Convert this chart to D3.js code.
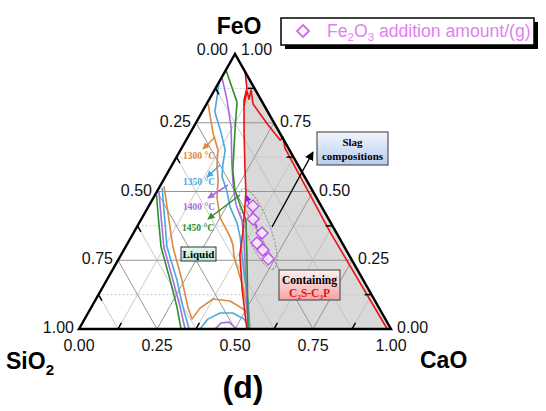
<!DOCTYPE html>
<html><head><meta charset="utf-8">
<script src="https://cdn.jsdelivr.net/npm/d3@7"></script>
<style>body{margin:0;background:#fff;} svg{display:block;}</style>
</head><body>
<svg id="chart" width="546" height="411"></svg>
<script>
// ---- data: ternary compositions [CaO, FeO] (SiO2 = 1 - CaO - FeO) ----
const tickValues = [0, 0.25, 0.5, 0.75, 1];
const tickLabels = ["0.00", "0.25", "0.50", "0.75", "1.00"];
const isoNames = ["1300 °C", "1350 °C", "1400 °C", "1450 °C"];
const isoColors = ["#dd8a3e", "#4aa8e0", "#a56ee0", "#2f8f2f"];
const orangeLeft = [[0.0125,0.52],[0.074,0.422],[0.152,0.298],[0.241,0.178],[0.309,0.08],[0.344,0.036],[0.35,0.076],[0.375,0.109],[0.433,0.102],[0.489,0.073],[0.514,0.055]];
const orangeRight = [[0.005,0.818],[0.073,0.713],[0.12,0.651],[0.144,0.596],[0.175,0.542],[0.202,0.48],[0.248,0.407],[0.317,0.335],[0.341,0.305],[0.366,0.262],[0.402,0.215],[0.449,0.153],[0.488,0.095],[0.514,0.055]];
const blueLeft = [[0.01,0.513],[0.062,0.422],[0.133,0.298],[0.225,0.178],[0.293,0.08],[0.353,0]];
const blueRight = [[0.0,0.898],[0.041,0.789],[0.097,0.716],[0.143,0.651],[0.163,0.596],[0.182,0.553],[0.221,0.505],[0.262,0.444],[0.314,0.385],[0.349,0.335],[0.392,0.262],[0.443,0.178],[0.495,0.095],[0.548,0]];
const blueDome = [[0.388,0],[0.395,0.036],[0.423,0.058],[0.464,0.058],[0.511,0.036],[0.548,0]];
const purpleLeft = [[0.005,0.502],[0.055,0.415],[0.123,0.298],[0.212,0.178],[0.284,0.08],[0.34,0]];
const purpleRight = [[0.0,0.916],[0.058,0.833],[0.12,0.735],[0.192,0.596],[0.232,0.524],[0.278,0.451],[0.324,0.396],[0.367,0.324],[0.446,0.178],[0.542,0]];
const purpleDome = [[0.436,0],[0.444,0.022],[0.468,0.025],[0.506,0]];
const greenLeft = [[0.005,0.487],[0.046,0.415],[0.114,0.298],[0.203,0.178],[0.274,0.08],[0.327,0]];
const greenRight = [[0.0,0.942],[0.094,0.825],[0.133,0.735],[0.204,0.578],[0.247,0.505],[0.291,0.451],[0.337,0.396],[0.413,0.251],[0.542,0]];
const redLeft = [[0.065,0.935],[0.1,0.876],[0.1125,0.833],[0.167,0.724],[0.243,0.578],[0.286,0.498],[0.346,0.36],[0.381,0.269],[0.452,0.142],[0.538,0]];
const redRight = [[0.123,0.811],[0.106,0.865],[0.127,0.836],[0.117,0.869],[0.149,0.818],[0.235,0.742],[0.301,0.687],[0.305,0.698],[0.331,0.658],[0.628,0.353],[0.988,0]];
const fe2o3Points = [[0.334,0.447],[0.358,0.4],[0.412,0.349],[0.414,0.313],[0.446,0.287],[0.479,0.255]];
const fe2o3Trend = [[0.484,0.244],[0.292,0.487]];
const ellipseCenter = [0.392, 0.364];

// ---- layout ----
const svg = d3.select("#chart");
const x = d3.scaleLinear().domain([0, 1]).range([79, 391]);
const y = d3.scaleLinear().domain([0, 1]).range([329, 54]);
const P = d => [x(d[0] + d[1] / 2), y(d[1])];
const line = d3.line().x(d => P(d)[0]).y(d => P(d)[1]);

const defs = svg.append("defs");
function grad(id, c1, c2) {
  const g = defs.append("linearGradient").attr("id", id).attr("x1", 0).attr("y1", 0).attr("x2", 0).attr("y2", 1);
  g.append("stop").attr("offset", "0%").attr("stop-color", c1);
  g.append("stop").attr("offset", "100%").attr("stop-color", c2);
}
grad("gSlag", "#f2f6fd", "#b7cbee");
grad("gLiq", "#e6f8f1", "#b9e8d8");
grad("gCont", "#fff0f0", "#f3a6a6");
function marker(id, color, s) {
  defs.append("marker").attr("id", id).attr("viewBox", "0 0 10 10").attr("refX", 9).attr("refY", 5)
    .attr("markerWidth", s).attr("markerHeight", s).attr("markerUnits", "userSpaceOnUse").attr("orient", "auto")
    .append("path").attr("d", "M0,0 L10,5 L0,10 Z").attr("fill", color);
}
isoColors.forEach((c, i) => marker("m" + i, c, 7));
marker("mBlack", "#000", 9);
marker("mPurp", "#8a2be2", 7);

// gray region (right of red boundary)
svg.append("path").attr("d", line(redLeft.concat([[1, 0]])) + "Z").attr("fill", "#d9d9d9");

// grid
const g = svg.append("g");
for (let k = 1; k < 8; k++) {
  const v = k / 8, major = k % 2 === 0;
  const segs = [[[0, v], [1 - v, v]], [[v, 0], [v, 1 - v]], [[1 - v, 0], [0, 1 - v]]];
  segs.forEach((s, j) => g.append("path").attr("d", line(s)).attr("fill", "none")
    .attr("stroke", major ? "#959595" : "#bdbdbd").attr("stroke-width", major ? 1 : 0.8)
    .attr("stroke-dasharray", (!major && j === 0) ? "2,2" : null));
}

// curves
function curve(data, color, w) {
  svg.append("path").attr("d", line(data)).attr("fill", "none").attr("stroke", color)
    .attr("stroke-width", w || 1.6).attr("stroke-linejoin", "round");
}
curve(orangeLeft, isoColors[0]); curve(orangeRight, isoColors[0]);
curve(blueLeft, isoColors[1]); curve(blueRight, isoColors[1]); curve(blueDome, isoColors[1]);
curve(purpleLeft, isoColors[2]); curve(purpleRight, isoColors[2]); curve(purpleDome, isoColors[2]);
curve(greenLeft, isoColors[3]); curve(greenRight, isoColors[3]);
curve(redLeft, "#ee1111", 1.6); curve(redRight, "#ee1111", 1.6);

// triangle
svg.append("path").attr("d", line([[0, 0], [1, 0], [0, 1]]) + "Z").attr("fill", "none")
  .attr("stroke", "#000").attr("stroke-width", 2.4).attr("stroke-linejoin", "miter");

// ticks at odd eighths
[1, 3, 5, 7].forEach(k => {
  const v = k / 8, t = 0.022;
  [[[v, 0], [v, t]], [[0, 1 - v], [t, 1 - v - t]], [[1 - v, v], [1 - v - t, v]]].forEach(s =>
    svg.append("path").attr("d", line(s)).attr("stroke", "#000").attr("stroke-width", 1.5));
});

// tick labels
const lab = svg.append("g").attr("font-family", "Arial, 'Liberation Sans', sans-serif").attr("font-size", 16).attr("fill", "#111");
tickValues.forEach((v, i) => {
  const pb = P([v, 0]);
  lab.append("text").attr("x", pb[0]).attr("y", 351).attr("text-anchor", "middle").text(tickLabels[i]);
  const pl = P([0, 1 - v]);
  lab.append("text").attr("x", pl[0] - (v === 0 ? 7 : 5)).attr("y", pl[1] + (v === 0 ? 1 : 4)).attr("text-anchor", "end").text(tickLabels[i]);
  const pr = P([1 - v, v]);
  lab.append("text").attr("x", pr[0] + 6).attr("y", pr[1] + (v === 1 ? 1 : 4)).attr("text-anchor", "start").text(tickLabels[i]);
});

// axis titles
const tt = svg.append("g").attr("font-family", "Arial, 'Liberation Sans', sans-serif").attr("font-weight", "bold").attr("font-size", 23).attr("fill", "#000");
tt.append("text").attr("x", 239).attr("y", 34).attr("text-anchor", "middle").text("FeO");
const si = tt.append("text").attr("x", 6).attr("y", 369);
si.append("tspan").text("SiO");
si.append("tspan").attr("font-size", 15).attr("dy", 6).text("2");
tt.append("text").attr("x", 420).attr("y", 368).text("CaO");
tt.append("text").attr("x", 243).attr("y", 398).attr("text-anchor", "middle").attr("font-size", 32).text("(d)");

// legend
svg.append("rect").attr("x", 285).attr("y", 22).attr("width", 253).attr("height", 27).attr("fill", "#000");
svg.append("rect").attr("x", 281).attr("y", 18).attr("width", 253).attr("height", 27).attr("fill", "#fff").attr("stroke", "#000").attr("stroke-width", 1.5);
svg.append("path").attr("d", "M303,25 L309,31 L303,37 L297,31 Z").attr("fill", "none").attr("stroke", "#d867f0").attr("stroke-width", 1.8);
const lt = svg.append("text").attr("x", 327).attr("y", 37).attr("font-family", "Arial, 'Liberation Sans', sans-serif").attr("font-size", 17.6).attr("fill", "#e27ff2");
lt.append("tspan").text("Fe");
lt.append("tspan").attr("font-size", 11.5).attr("dy", 4).text("2");
lt.append("tspan").attr("dy", -4).text("O");
lt.append("tspan").attr("font-size", 11.5).attr("dy", 4).text("3");
lt.append("tspan").attr("dy", -4).text(" addition amount/(g)");

// isotherm arrows + labels
const serif = "'Times New Roman', 'Liberation Serif', serif";
const arrows = [[[215, 137], [203, 149]], [[220, 165], [207, 177]], [[228, 185], [208, 198]], [[240, 195], [208, 219]]];
const labPos = [[183, 159], [183, 185], [183, 210], [182, 231]];
arrows.forEach((a, i) => {
  svg.append("line").attr("x1", a[0][0]).attr("y1", a[0][1]).attr("x2", a[1][0]).attr("y2", a[1][1])
    .attr("stroke", isoColors[i]).attr("stroke-width", 1.5).attr("marker-end", "url(#m" + i + ")");
  svg.append("text").attr("x", labPos[i][0]).attr("y", labPos[i][1]).attr("font-family", serif).attr("font-weight", "bold")
    .attr("font-size", 9.5).attr("fill", isoColors[i]).text(isoNames[i]);
});

// Liquid box
svg.append("rect").attr("x", 181).attr("y", 247).attr("width", 35).attr("height", 14).attr("fill", "url(#gLiq)").attr("stroke", "#333").attr("stroke-width", 1);
svg.append("text").attr("x", 198.5).attr("y", 258).attr("text-anchor", "middle").attr("font-family", serif).attr("font-weight", "bold").attr("font-size", 11).text("Liquid");

// Slag compositions box
svg.append("rect").attr("x", 317).attr("y", 132).attr("width", 71).attr("height", 33).attr("fill", "url(#gSlag)").attr("stroke", "#555").attr("stroke-width", 1.2);
svg.append("text").attr("x", 352.5).attr("y", 146).attr("text-anchor", "middle").attr("font-family", serif).attr("font-weight", "bold").attr("font-size", 11).text("Slag");
svg.append("text").attr("x", 352.5).attr("y", 160).attr("text-anchor", "middle").attr("font-family", serif).attr("font-weight", "bold").attr("font-size", 11).text("compositions");

// Containing box
svg.append("rect").attr("x", 279).attr("y", 270).attr("width", 61).attr("height", 30).attr("fill", "url(#gCont)").attr("stroke", "#555").attr("stroke-width", 1.2);
svg.append("text").attr("x", 309.5).attr("y", 284).attr("text-anchor", "middle").attr("font-family", serif).attr("font-weight", "bold").attr("font-size", 11.5).text("Containing");
const ct = svg.append("text").attr("x", 309.5).attr("y", 297).attr("text-anchor", "middle").attr("font-family", serif).attr("font-weight", "bold").attr("font-size", 11.5).attr("fill", "#e81010");
ct.append("tspan").text("C");
ct.append("tspan").attr("font-size", 7).attr("dy", 2).text("2");
ct.append("tspan").attr("dy", -2).text("S-C");
ct.append("tspan").attr("font-size", 7).attr("dy", 2).text("3");
ct.append("tspan").attr("dy", -2).text("P");

// ellipse around slag compositions
const ec = P(ellipseCenter);
svg.append("ellipse").attr("cx", 0).attr("cy", 0).attr("rx", 43).attr("ry", 12)
  .attr("transform", `translate(${ec[0]},${ec[1]}) rotate(69)`)
  .attr("fill", "none").attr("stroke", "#888").attr("stroke-width", 0.9).attr("stroke-dasharray", "2,1.5");

// black arrow to slag box
svg.append("line").attr("x1", 272).attr("y1", 227).attr("x2", 313).attr("y2", 152)
  .attr("stroke", "#000").attr("stroke-width", 1.4).attr("marker-end", "url(#mBlack)");

// Fe2O3 points and trend
svg.append("path").attr("d", line(fe2o3Trend)).attr("fill", "none").attr("stroke", "#8a2be2")
  .attr("stroke-width", 1.3).attr("stroke-dasharray", "4,2").attr("marker-end", "url(#mPurp)");
svg.selectAll(".pt").data(fe2o3Points).enter().append("path").attr("class", "pt")
  .attr("transform", d => `translate(${P(d)[0]},${P(d)[1]})`)
  .attr("d", "M0,-6 L6,0 L0,6 L-6,0 Z").attr("fill", "#f6e8fd").attr("fill-opacity", 0.85)
  .attr("stroke", "#c050ee").attr("stroke-width", 1.4);
</script>
</body></html>
